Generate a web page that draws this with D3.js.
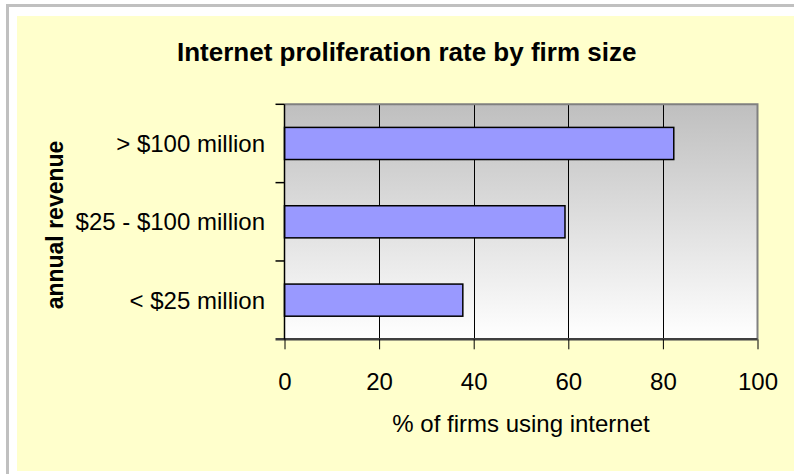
<!DOCTYPE html>
<html>
<head>
<meta charset="utf-8">
<script src="https://cdn.jsdelivr.net/npm/d3@7"></script>
<style>
  html, body { margin: 0; padding: 0; background: #fff; }
  svg { display: block; }
  text { font-family: "Liberation Sans", Arial, sans-serif; }
</style>
</head>
<body>
<svg id="chart" width="794" height="474"></svg>
<script>
// Share of firms using the internet, by annual revenue band
const categories = ["> $100 million", "$25 - $100 million", "< $25 million"];
const values = [82.3, 59.3, 37.7];
const xTicks = [0, 20, 40, 60, 80, 100];
const titleText = "Internet proliferation rate by firm size";
const xTitle = "% of firms using internet";
const yTitle = "annual revenue";

const svg = d3.select("#chart");

// page frame and chart area background
svg.append("rect")
  .attr("x", 7.5).attr("y", 5.5)
  .attr("width", 800).attr("height", 480)
  .attr("fill", "#fff")
  .attr("stroke", "#c0c0c0").attr("stroke-width", 3);
svg.append("rect")
  .attr("x", 17).attr("y", 16)
  .attr("width", 790).attr("height", 455)
  .attr("fill", "#ffffcc");

const plot = { left: 284.5, right: 757.5, top: 104.3, bottom: 339.3 };

const x = d3.scaleLinear().domain([0, 100]).range([plot.left, plot.right]);
const y = d3.scaleBand().domain(categories)
  .range([plot.top, plot.bottom])
  .paddingInner(0.59).paddingOuter(0.295);

// plot background gradient
const defs = svg.append("defs");
const grad = defs.append("linearGradient")
  .attr("id", "plotBg").attr("x1", 0).attr("y1", 0).attr("x2", 0).attr("y2", 1);
grad.append("stop").attr("offset", "0%").attr("stop-color", "#bfbfbf");
grad.append("stop").attr("offset", "100%").attr("stop-color", "#ffffff");

svg.append("rect")
  .attr("x", plot.left).attr("y", plot.top)
  .attr("width", plot.right - plot.left).attr("height", plot.bottom - plot.top)
  .attr("fill", "url(#plotBg)");

// vertical gridlines
svg.append("g")
  .selectAll("line")
  .data(xTicks.filter(d => d > 0 && d < 100))
  .join("line")
  .attr("x1", d => Math.round(x(d)) + 0.5).attr("x2", d => Math.round(x(d)) + 0.5)
  .attr("y1", plot.top).attr("y2", plot.bottom)
  .attr("stroke", "#000").attr("stroke-width", 1);

// plot frame: top and right edges
svg.append("path")
  .attr("d", `M${plot.left},${plot.top}H${plot.right}V${plot.bottom}`)
  .attr("fill", "none")
  .attr("stroke", "#808080").attr("stroke-width", 2);

// bars
svg.append("g")
  .selectAll("rect")
  .data(categories.map((c, i) => ({ c, v: values[i] })))
  .join("rect")
  .attr("x", x(0))
  .attr("y", d => y(d.c))
  .attr("width", d => x(d.v) - x(0))
  .attr("height", y.bandwidth())
  .attr("fill", "#9999ff")
  .attr("stroke", "#000").attr("stroke-width", 1.5);

// x axis
const xAxis = svg.append("g")
  .attr("transform", `translate(0,${plot.bottom})`)
  .call(d3.axisBottom(x).tickValues(xTicks).tickSize(10).tickPadding(24).tickSizeOuter(0));
xAxis.select(".domain").attr("stroke", "#404040").attr("stroke-width", 2.5)
  .attr("d", `M${plot.left - 9},0H${plot.right}`);
xAxis.selectAll(".tick line").attr("stroke", "#000").attr("stroke-width", 1);
xAxis.selectAll(".tick text")
  .attr("font-size", 24).attr("fill", "#000")
  .style("font-family", "'Liberation Sans', Arial, sans-serif");

// y axis: ticks sit on category boundaries
const yAxis = svg.append("g")
  .attr("transform", `translate(${plot.left},0)`);
yAxis.append("line")
  .attr("y1", plot.top).attr("y2", plot.bottom)
  .attr("stroke", "#000").attr("stroke-width", 1.5);
const bounds = d3.range(categories.length + 1)
  .map(i => plot.top + i * y.step());
yAxis.selectAll(".btick")
  .data(bounds.slice(0, -1))
  .join("line")
  .attr("class", "btick")
  .attr("x1", -9).attr("x2", 0)
  .attr("y1", d => d).attr("y2", d => d)
  .attr("stroke", "#000").attr("stroke-width", 1.5);
yAxis.selectAll(".ylabel")
  .data(categories)
  .join("text")
  .attr("class", "ylabel")
  .attr("x", -19.5)
  .attr("y", d => y(d) + y.bandwidth() / 2)
  .attr("dy", "0.35em")
  .attr("text-anchor", "end")
  .attr("font-size", 24)
  .attr("fill", "#000")
  .text(d => d);

// titles
svg.append("text")
  .attr("x", 406.7).attr("y", 61)
  .attr("text-anchor", "middle")
  .attr("font-size", 26).attr("font-weight", "bold")
  .text(titleText);

svg.append("text")
  .attr("x", (plot.left + plot.right) / 2).attr("y", 432)
  .attr("text-anchor", "middle")
  .attr("font-size", 24)
  .text(xTitle);

svg.append("text")
  .attr("transform", "translate(62.5,225) rotate(-90)")
  .attr("text-anchor", "middle")
  .attr("font-size", 23).attr("font-weight", "bold")
  .text(yTitle);
</script>
</body>
</html>
